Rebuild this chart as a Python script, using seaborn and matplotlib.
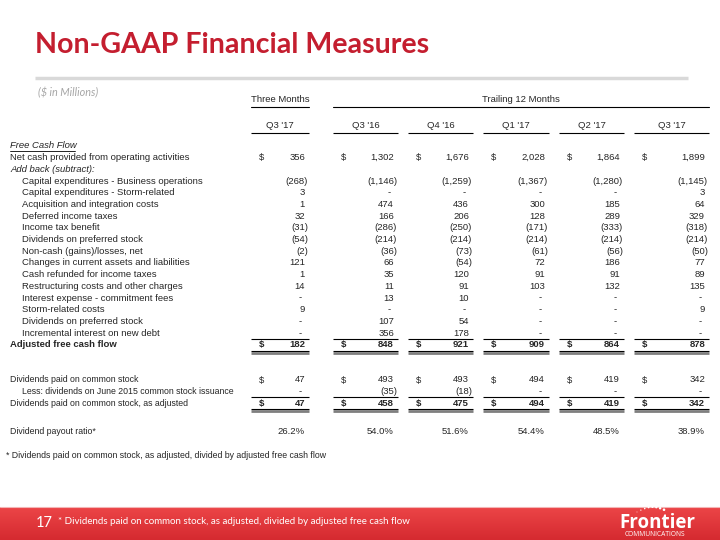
import matplotlib.pyplot as plt
import numpy as np
import seaborn as sns

# ---- data ($ in millions), None = "-" ----
periods = ["Q3 '17", "Q3 '16", "Q4 '16", "Q1 '17", "Q2 '17", "Q3 '17"]

net_cash = [356, 1302, 1676, 2028, 1864, 1899]
capex_business = [-268, -1146, -1259, -1367, -1280, -1145]
capex_storm = [3, None, None, None, None, 3]
acquisition_costs = [1, 474, 436, 300, 185, 64]
deferred_taxes = [32, 166, 206, 128, 289, 329]
income_tax_benefit = [-31, -286, -250, -171, -333, -318]
preferred_dividends = [-54, -214, -214, -214, -214, -214]
noncash_gains = [-2, -36, -73, -61, -56, -50]
working_capital = [121, 66, -54, 72, 186, 77]
tax_refunds = [1, 35, 120, 91, 91, 89]
restructuring = [14, 11, 91, 103, 132, 135]
commitment_fees = [None, 13, 10, None, None, None]
storm_costs = [9, None, None, None, None, 9]
preferred_addback = [None, 107, 54, None, None, None]
incremental_interest = [None, 356, 178, None, None, None]
adjusted_fcf = [182, 848, 921, 909, 864, 878]

common_dividends = [47, 493, 493, 494, 419, 342]
june_2015_dividends = [None, -35, -18, None, None, None]
adjusted_dividends = [47, 458, 475, 494, 419, 342]
payout_ratio = [26.2, 54.0, 51.6, 54.4, 48.5, 38.9]

# ---- style ----
sns.set_theme(style="white")
plt.rcParams["font.family"] = ["Liberation Sans", "DejaVu Sans"]
RED = "#c41e2f"
FS = 6.8
FS_LOW = 6.3  # lower block is set slightly tighter

fig = plt.figure(figsize=(7.2, 5.4), dpi=100)
ax = fig.add_axes([0, 0, 1, 1])
ax.set_xlim(0, 720)
ax.set_ylim(540, 0)
ax.axis("off")

# column layout: "$" position and right edge of numbers
dollar_x = [259, 341, 416, 491, 567, 642]
right_x = [305, 394, 469, 545, 620, 705]
col_start = [d - 8 for d in dollar_x]
col_end = [r + 4 for r in right_x]


def fmt(v):
    if v is None:
        return "-"
    s = f"{abs(v):,}"
    return f"({s})" if v < 0 else s


def value_row(y, values, dollar=False, bold=False):
    weight = "bold" if bold else "normal"
    for i, v in enumerate(values):
        if dollar:
            ax.text(dollar_x[i], y, "$", fontsize=FS, ha="left", va="center", weight=weight)
        if v is None:
            ax.text(right_x[i] - 3, y, "-", fontsize=FS, ha="right", va="center")
        elif v < 0:
            ax.text(right_x[i] + 3, y, fmt(v), fontsize=FS, ha="right", va="center", weight=weight)
        else:
            ax.text(right_x[i], y, fmt(v), fontsize=FS, ha="right", va="center", weight=weight)


def label(y, text, indent=False, size=FS, **kw):
    ax.text(22 if indent else 10, y, text, fontsize=size, ha="left", va="center", **kw)


def rule(y, lw=0.8, color="black"):
    for s, e in zip(col_start, col_end):
        ax.plot([s, e], [y, y], color=color, lw=lw, solid_capstyle="butt")


# ---- title area ----
ax.text(35, 45, "Non-GAAP Financial Measures", fontsize=20.6, color=RED, weight="bold",
        family="Lato", ha="left", va="center")
ax.plot([35, 688], [78, 78], color="#d9d9d9", lw=2.5, solid_capstyle="butt")
ax.text(38, 93, "($ in Millions)", fontsize=7.8, color="#a6a6a6", style="italic",
        family="Lato", ha="left", va="center")

# ---- headers ----
ax.text((col_start[0] + col_end[0]) / 2, 100, "Three Months", fontsize=FS, ha="center", va="center")
ax.plot([col_start[0], col_end[0]], [107, 107], color="black", lw=0.8)
ax.text((col_start[1] + col_end[5]) / 2, 100, "Trailing 12 Months", fontsize=FS, ha="center", va="center")
ax.plot([col_start[1], col_end[5]], [107, 107], color="black", lw=0.8)
for i, p in enumerate(periods):
    ax.text((col_start[i] + col_end[i]) / 2, 126, p, fontsize=FS, ha="center", va="center")
rule(133)

# ---- free cash flow block ----
step = 11.7
y0 = 146
label(y0, "Free Cash Flow", style="italic")
ax.plot([10, 75], [y0 + 5, y0 + 5], color="black", lw=0.6)

rows = [
    ("Net cash provided from operating activities", net_cash, False, True),
    ("Add back (subtract):", None, False, False),
    ("Capital expenditures - Business operations", capex_business, True, False),
    ("Capital expenditures - Storm-related", capex_storm, True, False),
    ("Acquisition and integration costs", acquisition_costs, True, False),
    ("Deferred income taxes", deferred_taxes, True, False),
    ("Income tax benefit", income_tax_benefit, True, False),
    ("Dividends on preferred stock", preferred_dividends, True, False),
    ("Non-cash (gains)/losses, net", noncash_gains, True, False),
    ("Changes in current assets and liabilities", working_capital, True, False),
    ("Cash refunded for income taxes", tax_refunds, True, False),
    ("Restructuring costs and other charges", restructuring, True, False),
    ("Interest expense - commitment fees", commitment_fees, True, False),
    ("Storm-related costs", storm_costs, True, False),
    ("Dividends on preferred stock", preferred_addback, True, False),
    ("Incremental interest on new debt", incremental_interest, True, False),
]
y = y0
for text, vals, indent, dollar in rows:
    y += step
    if vals is None:
        label(y, text, style="italic")
    else:
        label(y, text, indent=indent)
        value_row(y, vals, dollar=dollar)

y += step
rule(y - 6)
label(y, "Adjusted free cash flow", weight="bold")
value_row(y, adjusted_fcf, dollar=True, bold=True)
rule(y + 6)
rule(y + 8, lw=2, color="#7f7f7f")

# ---- dividends block ----
y = 380
label(y, "Dividends paid on common stock", size=FS_LOW)
value_row(y, common_dividends, dollar=True)
y += step
label(y, "Less: dividends on June 2015 common stock issuance", indent=True, size=FS_LOW)
value_row(y, june_2015_dividends)
y += step
rule(y - 6)
label(y, "Dividends paid on common stock, as adjusted", size=FS_LOW)
value_row(y, adjusted_dividends, dollar=True, bold=True)
rule(y + 6)
rule(y + 8, lw=2, color="#7f7f7f")

y = 432
label(y, "Dividend payout ratio*", size=FS_LOW)
for i, v in enumerate(payout_ratio):
    ax.text(right_x[i], y, f"{v:.1f}%", fontsize=FS, ha="right", va="center")

ax.text(6, 456, "* Dividends paid on common stock, as adjusted, divided by adjusted free cash flow",
        fontsize=FS_LOW, ha="left", va="center")

# ---- footer band ----
grad = np.linspace(0, 1, 64).reshape(-1, 1)
cmap = sns.blend_palette(["#ec4547", "#d52a30"], as_cmap=True)
ax.imshow(grad, cmap=cmap, extent=[0, 720, 540, 507], aspect="auto", zorder=0)
ax.plot([0, 720], [507, 507], color="#f3b5b5", lw=0.8)
ax.text(36, 523, "17", fontsize=10.5, color="white", family="Lato", ha="left", va="center")
ax.text(58, 522, "* Dividends paid on common stock, as adjusted, divided by adjusted free cash flow",
        fontsize=7, color="white", family="Lato", ha="left", va="center")

# logo
ax.text(657, 523, "Frontier", fontsize=13.5, color="white", weight="bold", family="Open Sans",
        ha="center", va="center")
ax.text(655, 535, "COMMUNICATIONS", fontsize=4.8, color="white", family="Open Sans",
        ha="center", va="center")
t = np.linspace(0, 1, 8)
ax.scatter(637 + 27 * t, 512 - 5 * np.sin(np.pi * t * 0.85), s=np.linspace(0.4, 3.5, 8),
           color="white", zorder=3, linewidths=0)

fig.savefig("out.png", dpi=100)
